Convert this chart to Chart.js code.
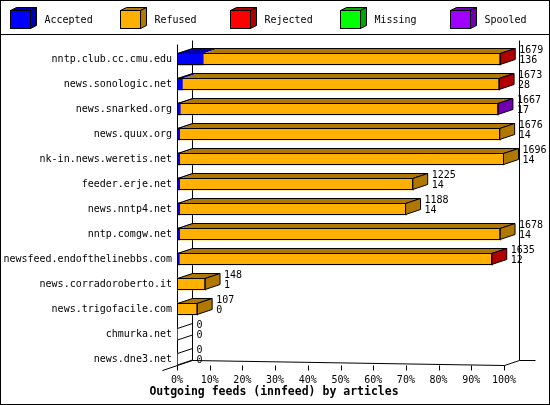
<!DOCTYPE html>
<html><head><meta charset="utf-8">
<script src="https://cdn.jsdelivr.net/npm/chart.js@4/dist/chart.umd.min.js"></script>
<style>html,body{margin:0;padding:0;background:#fff}#wrap{width:550px;height:405px;position:relative}</style>
</head><body><div id="wrap"><canvas id="c" width="550" height="405"></canvas></div>
<script>
const categories = ['nntp.club.cc.cmu.edu','news.sonologic.net','news.snarked.org','news.quux.org','nk-in.news.weretis.net','feeder.erje.net','news.nntp4.net','nntp.comgw.net','newsfeed.endofthelinebbs.com','news.corradoroberto.it','news.trigofacile.com','chmurka.net','news.dne3.net'];
const accepted = [136,28,17,14,14,14,14,14,12,1,0,0,0];
const refused  = [1535,1641,1647,1662,1682,1211,1174,1664,1619,147,107,0,0];
const rejected = [8,4,0,0,0,0,0,0,4,0,0,0,0];
const missing  = [0,0,0,0,0,0,0,0,0,0,0,0,0];
const spooled  = [0,0,3,0,0,0,0,0,0,0,0,0,0];
const offered  = [1679,1673,1667,1676,1696,1225,1188,1678,1635,148,107,0,0];
const tickLabels = ['0%','10%','20%','30%','40%','50%','60%','70%','80%','90%','100%'];
const seriesNames = ['Accepted','Refused','Rejected','Missing','Spooled'];
const frontColors = ['#0000FF','#FFB000','#FF0000','#00FF00','#A000FF'];
const shadeColors = ['#0000B0','#B07800','#B00000','#00A800','#7000B0'];
const chartTitle = 'Outgoing feeds (innfeed) by articles';

const seriesData = [accepted, refused, rejected, missing, spooled];
const scaleMax = Math.max(...offered);
const MONO = '"DejaVu Sans Mono", "Liberation Mono", monospace';
const DX = 15, DY = 5;

function poly(ctx, pts, fill) {
  ctx.beginPath();
  ctx.moveTo(pts[0][0], pts[0][1]);
  for (let i = 1; i < pts.length; i++) ctx.lineTo(pts[i][0], pts[i][1]);
  ctx.closePath();
  if (fill) { ctx.fillStyle = fill; ctx.fill(); }
}
function line(ctx, x1, y1, x2, y2) {
  ctx.beginPath(); ctx.moveTo(x1, y1); ctx.lineTo(x2, y2); ctx.stroke();
}

const threeD = {
  id: 'threeD',
  beforeDatasetsDraw(chart) {
    const ctx = chart.ctx, xs = chart.scales.x;
    const x0 = xs.getPixelForValue(0) + 0.5;
    const xR = xs.getPixelForValue(scaleMax) + 0.5;
    const lastMeta = chart.getDatasetMeta(0).data[categories.length - 1];
    const floorY = lastMeta.y + lastMeta.height / 2 + 0.5;
    const firstMeta = chart.getDatasetMeta(0).data[0];
    const topFront = firstMeta.y - firstMeta.height / 2 - 9 + 0.5;
    ctx.save();
    ctx.strokeStyle = '#000'; ctx.lineWidth = 1;
    line(ctx, x0 + DX, topFront - DY + 1, x0 + DX, floorY - DY);
    line(ctx, xR + DX, topFront - DY + 1, xR + DX, floorY - DY);
    line(ctx, x0, topFront, x0, floorY);
    line(ctx, x0 - DX, floorY + DY, x0 + DX, floorY - DY);
    line(ctx, x0 + DX, floorY - DY, xR, floorY);
    line(ctx, xR, floorY, xR + DX, floorY - DY);
    line(ctx, xR + DX, floorY - DY, xR + DX + 16, floorY - DY);
    xs.ticks.forEach(t => {
      const px = Math.round(xs.getPixelForValue(t.value)) + 0.5;
      line(ctx, px, floorY, px, floorY + 5);
    });
    ctx.restore();
  },
  afterDatasetsDraw(chart) {
    const ctx = chart.ctx;
    const metas = seriesData.map((_, k) => chart.getDatasetMeta(k));
    ctx.save();
    ctx.lineWidth = 1; ctx.strokeStyle = '#000';
    categories.forEach((c, i) => {
      const ref = metas[0].data[i];
      const top = ref.y - ref.height / 2 + 0.5;
      const bot = ref.y + ref.height / 2 - 0.5;
      const xStart = chart.scales.x.getPixelForValue(0) + 0.5;
      const segs = [];
      seriesData.forEach((arr, k) => {
        if (arr[i] > 0) {
          const el = metas[k].data[i];
          segs.push({k, a: Math.min(el.base, el.x), b: Math.max(el.base, el.x)});
        }
      });
      let xEnd = xStart;
      if (segs.length) {
        xEnd = segs[segs.length - 1].b - 0.5;
        segs.forEach(s => {
          poly(ctx, [[s.a, top], [s.a + DX, top - DY], [s.b + DX, top - DY], [s.b, top]], shadeColors[s.k]);
        });
        poly(ctx, [[xStart, top], [xStart + DX, top - DY], [xEnd + DX, top - DY], [xEnd, top]]);
        ctx.stroke();
        const last = segs[segs.length - 1];
        poly(ctx, [[xEnd, top], [xEnd + DX, top - DY], [xEnd + DX, bot - DY], [xEnd, bot]], shadeColors[last.k]);
        ctx.stroke();
        ctx.strokeRect(xStart, top, xEnd - xStart, bot - top);
      } else {
        line(ctx, xStart, top, xStart + DX, top - DY);
        line(ctx, xStart, bot + 0.5, xStart + DX, bot + 0.5 - DY);
      }
      ctx.fillStyle = '#000';
      ctx.font = '10px ' + MONO;
      ctx.textAlign = 'left'; ctx.textBaseline = 'middle';
      const lx = xEnd + DX + 4;
      ctx.fillText(String(offered[i]), lx, ref.y - 8.5);
      ctx.fillText(String(accepted[i]), lx, ref.y + 1.5);
    });
    ctx.restore();
  },
  afterDraw(chart) {
    const ctx = chart.ctx;
    ctx.save();
    ctx.strokeStyle = '#000'; ctx.lineWidth = 1;
    ctx.strokeRect(0.5, 0.5, 549, 404);
    line(ctx, 0, 34.5, 550, 34.5);
    seriesNames.forEach((n, k) => {
      const bx = 10.5 + 110 * k, by = 10.5, w = 20, h = 18, dx = 6, dy = 3;
      ctx.fillStyle = frontColors[k];
      ctx.fillRect(bx, by, w, h);
      ctx.strokeRect(bx, by, w, h);
      poly(ctx, [[bx, by], [bx + dx, by - dy], [bx + w + dx, by - dy], [bx + w, by]], shadeColors[k]);
      ctx.stroke();
      poly(ctx, [[bx + w, by], [bx + w + dx, by - dy], [bx + w + dx, by + h - dy], [bx + w, by + h]], shadeColors[k]);
      ctx.stroke();
      ctx.fillStyle = '#000';
      ctx.font = '10px ' + MONO;
      ctx.textAlign = 'left'; ctx.textBaseline = 'middle';
      ctx.fillText(n, bx + 34, 20);
    });
    ctx.font = 'bold 11.5px ' + MONO;
    ctx.textAlign = 'center'; ctx.textBaseline = 'middle';
    ctx.fillStyle = '#000';
    ctx.fillText(chartTitle, 274, 392);
    ctx.restore();
  }
};

new Chart(document.getElementById('c'), {
  type: 'bar',
  data: {
    labels: categories,
    datasets: seriesNames.map((n, k) => ({
      label: n, data: seriesData[k], backgroundColor: frontColors[k],
      borderWidth: 0, barThickness: 12
    }))
  },
  options: {
    indexAxis: 'y', responsive: false, animation: false, devicePixelRatio: 1,
    layout: { padding: { top: 46.5, left: 0, right: 46, bottom: 17.5 } },
    plugins: { legend: { display: false }, tooltip: { enabled: false }, title: { display: false } },
    scales: {
      x: {
        stacked: true, min: 0, max: scaleMax,
        grid: { display: false, drawTicks: false }, border: { display: false },
        afterBuildTicks: s => { s.ticks = tickLabels.map((_, i) => ({ value: scaleMax * i / (tickLabels.length - 1) })); },
        ticks: { autoSkip: false, maxRotation: 0, minRotation: 0, padding: 2.5, color: '#000',
          font: { family: MONO, size: 10 }, callback: (v, i) => tickLabels[i] },
        afterFit: s => { s.height = 16; }
      },
      y: {
        stacked: true,
        grid: { display: false, drawTicks: false }, border: { display: false },
        ticks: { autoSkip: false, padding: 5, color: '#000', font: { family: MONO, size: 10 } },
        afterFit: s => { s.width = 177; }
      }
    }
  },
  plugins: [threeD]
});
</script></body></html>
